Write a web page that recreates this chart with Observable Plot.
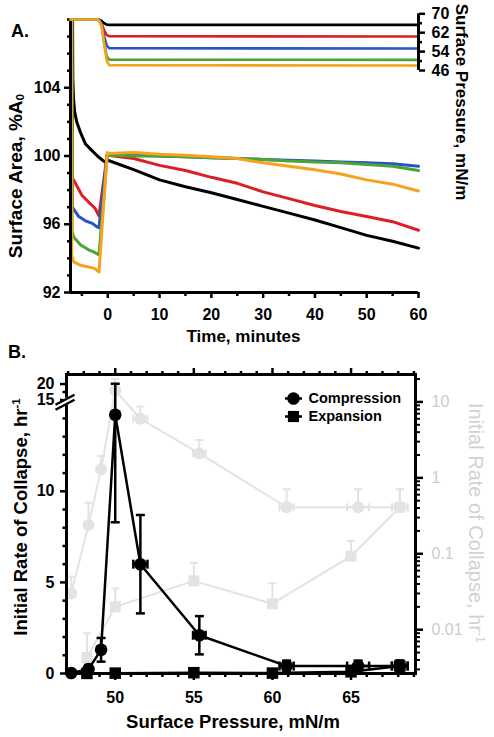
<!DOCTYPE html>
<html><head><meta charset="utf-8">
<script src="https://cdn.jsdelivr.net/npm/d3@7"></script>
<script src="https://cdn.jsdelivr.net/npm/@observablehq/plot@0.6"></script>
<style>
body{margin:0;background:#fff;}
#wrap{position:relative;width:494px;height:737px;overflow:hidden;font-family:"Liberation Sans",Arial,Helvetica,sans-serif;background:#fff;}
.lbl{position:absolute;white-space:nowrap;line-height:1;}
.lbl sup{font-size:0.62em;vertical-align:0.55em;line-height:0;}
.lbl sub{font-size:0.62em;vertical-align:-0.25em;line-height:0;}
</style></head><body><div id="wrap"></div>
<script>
// ---------------- Panel A data ----------------
const postTime = [0, 5, 10, 15, 20, 25, 30, 35, 40, 45, 50, 55, 60];

const blackPreTime = [-6.8, -6.75, -6.6, -6.4, -6.0, -5.3, -4.3, -3.0, -2.0, -1.0, -0.3];
const blackPreArea = [108, 104.5, 103.3, 102.6, 102.0, 101.4, 100.7, 100.3, 100.0, 99.75, 99.6];
const blackPostArea = [99.75, 99.2, 98.6, 98.2, 97.85, 97.45, 97.05, 96.65, 96.25, 95.8, 95.35, 95.0, 94.6];

const redPreTime = [-6.95, -6.9, -6.6, -5.0, -3.7, -2.5, -1.7, -0.1];
const redPreArea = [108, 98.7, 98.6, 97.7, 97.3, 96.95, 96.5, 100.1];
const redPostArea = [100.05, 99.85, 99.45, 99.15, 98.75, 98.4, 97.9, 97.5, 97.1, 96.75, 96.45, 96.15, 95.65];

const bluePreTime = [-6.9, -6.85, -5.6, -4.3, -3.0, -2.1, -1.7, -0.1];
const bluePreArea = [108, 97.0, 96.45, 96.2, 96.05, 95.85, 95.8, 100.1];
const bluePostArea = [100.1, 100.05, 100.0, 99.95, 99.9, 99.85, 99.8, 99.75, 99.7, 99.65, 99.6, 99.55, 99.4];

const greenPreTime = [-6.95, -6.9, -6.6, -5.3, -3.7, -2.5, -1.7, -0.1];
const greenPreArea = [108, 95.6, 95.25, 94.8, 94.5, 94.35, 94.2, 100.1];
const greenPostArea = [100.05, 100.0, 100.0, 99.95, 99.9, 99.85, 99.8, 99.7, 99.65, 99.6, 99.5, 99.4, 99.15];

const orangePreTime = [-7.0, -6.95, -6.6, -5.3, -3.7, -2.5, -1.7, -0.1];
const orangePreArea = [108, 94.2, 93.8, 93.6, 93.5, 93.4, 93.2, 100.2];
const orangePostArea = [100.15, 100.2, 100.1, 100.05, 99.95, 99.85, 99.6, 99.4, 99.2, 98.95, 98.6, 98.35, 97.95];

const pressTime = [-7.2, -1.8, -1.2, -0.7, -0.2, 0.3, 60];
const blackPress = [67.6, 67.6, 67.0, 66.0, 65.4, 65.3, 65.3];
const redPress = [67.6, 67.6, 66.0, 63.0, 61.0, 60.5, 60.4];
const bluePress = [67.6, 67.6, 65.5, 60.5, 56.5, 55.4, 55.3];
const greenPress = [67.6, 67.6, 65.0, 58.0, 52.0, 50.6, 50.5];
const orangePress = [67.6, 67.6, 65.0, 57.0, 50.0, 48.2, 48.1];

const colors = {black: "#000000", red: "#dc1f26", blue: "#2a52c9", green: "#4aa436", orange: "#f5a31c"};

const xTicksA = [0, 10, 20, 30, 40, 50, 60];
const xMinorA = [-5, 5, 15, 25, 35, 45, 55];
const yTicksA = [92, 96, 100, 104];
const yMinorA = [93, 94, 95, 97, 98, 99, 101, 102, 103, 105, 106, 107, 108];
const pressTicks = [46, 54, 62, 70];
const pressMinor = [50, 58, 66];

// ---------------- Panel B data ----------------
const compPressure = [47.2, 48.3, 49.1, 50.0, 51.6, 55.35, 60.9, 65.45, 68.1];
const compRate =     [0.03, 0.24, 1.3, 14.2, 6.0, 2.1, 0.41, 0.41, 0.41];
const compErrY =     [0.02, 0.23, 0.65, 5.9, 2.7, 1.05, 0.3, 0.3, 0.3];
const compErrX =     [0, 0, 0, 0, 0.45, 0.4, 0.45, 0.7, 0.5];

const expPressure = [48.2, 50.0, 55.0, 60.0, 65.0, 68.1];
const expRate =     [0.0043, 0.020, 0.044, 0.022, 0.093, 0.41];
const expErrY =     [0.0047, 0.015, 0.032, 0.019, 0.055, 0.3];
const expErrX =     [0, 0, 0, 0, 0, 0.5];

const yTicksB = [0, 5, 10, 15, 20];
const yMinorB = [1, 2, 3, 4, 6, 7, 8, 9, 11, 12, 13, 14, 17.5];
const xTicksB = [50, 55, 60, 65];
const xMinorB = [47, 48, 49, 51, 52, 53, 54, 56, 57, 58, 59, 61, 62, 63, 64, 66, 67, 68, 69];
const logTicks = [0.01, 0.1, 1, 10];
const logTickLabels = ["0.01", "0.1", "1", "10"];
const logMinor = [0.003,0.004,0.005,0.006,0.007,0.008,0.009,0.02,0.03,0.04,0.05,0.06,0.07,0.08,0.09,0.2,0.3,0.4,0.5,0.6,0.7,0.8,0.9,2,3,4,5,6,7,8,9,20];
const legendNames = ["Compression", "Expansion"];
const legendSymbols = ["circle", "square"];
const breakAt = [14.8];

// ---------------- helpers ----------------
const W = 494, H = 737;
const FONT = "'Liberation Sans', Arial, Helvetica, sans-serif";
const wrap = document.getElementById("wrap");
const baseStyle = {position: "absolute", left: "0px", top: "0px", background: "transparent", overflow: "visible", fontFamily: FONT, fontSize: "16px", fontWeight: "bold", color: "black", maxWidth: "none"};
function add(node, left = 0, top = 0) {
  node.style.position = "absolute"; node.style.left = left + "px"; node.style.top = top + "px";
  node.style.background = "transparent"; node.style.overflow = "visible";
  wrap.appendChild(node);
}
function label(html, cx, cy, {size = 16, rot = 0, weight = "bold", color = "#000"} = {}) {
  const d = document.createElement("div");
  d.className = "lbl"; d.innerHTML = html;
  d.style.left = cx + "px"; d.style.top = cy + "px";
  d.style.fontSize = size + "px"; d.style.fontWeight = weight; d.style.color = color;
  d.style.transform = `translate(-50%,-50%) rotate(${rot}deg)`;
  wrap.appendChild(d);
}
const capH = {draw(ctx, size) { const r = Math.sqrt(size / Math.PI); ctx.moveTo(-r, 0); ctx.lineTo(r, 0); }};
const capV = {draw(ctx, size) { const r = Math.sqrt(size / Math.PI); ctx.moveTo(0, -r); ctx.lineTo(0, r); }};
const breakSlashes = {draw(ctx) { ctx.moveTo(-11, 6); ctx.lineTo(8, -4); ctx.moveTo(-11, 1); ctx.lineTo(8, -9); }};
const breakGap = {draw(ctx) { ctx.rect(-3, -6, 6, 7); }};
const blank = () => "";

// ---------------- Panel A ----------------
const areaSeries = [
  ["black", blackPreTime, blackPreArea, blackPostArea],
  ["red", redPreTime, redPreArea, redPostArea],
  ["blue", bluePreTime, bluePreArea, bluePostArea],
  ["green", greenPreTime, greenPreArea, greenPostArea],
  ["orange", orangePreTime, orangePreArea, orangePostArea]
].map(([name, pt, pa, post]) => ({
  name,
  rows: [...pt.map((t, i) => ({t, v: pa[i]})), ...postTime.map((t, i) => ({t, v: post[i]}))]
}));
const pressSeries = [["black", blackPress], ["red", redPress], ["blue", bluePress], ["green", greenPress], ["orange", orangePress]]
  .map(([name, vals]) => ({name, rows: pressTime.map((t, i) => ({t, v: vals[i]}))}));

const axisFont = {fontSize: 16, fontWeight: "bold", fontFamily: FONT};

add(Plot.plot({
  width: W, height: H, marginLeft: 70, marginRight: 76, marginTop: 19, marginBottom: H - 292,
  style: baseStyle,
  x: {domain: [-7.2, 60]}, y: {domain: [92, 108]},
  marks: [
    ...areaSeries.map(s => Plot.line(s.rows, {x: "t", y: "v", stroke: colors[s.name], strokeWidth: 3})),
    Plot.ruleX([-7.2], {stroke: "black", strokeWidth: 3}),
    Plot.ruleY([92], {stroke: "black", strokeWidth: 3}),
    Plot.axisY(yTicksA, {tickSize: 6, tickPadding: 4, strokeWidth: 2.5, label: null, ...axisFont}),
    Plot.axisY(yMinorA, {tickSize: 3, tickFormat: blank, strokeWidth: 2.5, label: null}),
    Plot.axisX(xTicksA, {tickSize: 6, tickPadding: 10, strokeWidth: 2.5, label: null, ...axisFont}),
    Plot.axisX(xMinorA, {tickSize: 4, tickFormat: blank, strokeWidth: 2.5, label: null})
  ]
}));

add(Plot.plot({
  width: W, height: H, marginLeft: 70, marginRight: 76, marginTop: 13.3, marginBottom: H - 70,
  style: baseStyle,
  x: {domain: [-7.2, 60], axis: null}, y: {domain: [46, 70]},
  marks: [
    ...pressSeries.map(s => Plot.line(s.rows, {x: "t", y: "v", stroke: colors[s.name], strokeWidth: 2.6})),
    Plot.ruleX([60], {y1: d3.min(pressTicks), y2: d3.max(pressTicks), stroke: "black", strokeWidth: 3}),
    Plot.axisY(pressTicks, {anchor: "right", tickSize: 6, tickPadding: 7, strokeWidth: 2.5, label: null, ...axisFont}),
    Plot.axisY(pressMinor, {anchor: "right", tickSize: 3, tickFormat: blank, strokeWidth: 2.5, label: null})
  ]
}));

// ---------------- Panel B ----------------
const compRows = compPressure.map((p, i) => ({p, r: compRate[i], ey: compErrY[i], ex: compErrX[i]}));
const expRows = expPressure.map((p, i) => ({p, r: expRate[i], ey: expErrY[i], ex: expErrX[i]}));
const grey = "#e3e3e3";
const xBdomain = [46.9, 69.1];
const marginsB = {marginLeft: 66, marginRight: 79, marginTop: 374, marginBottom: H - 673};

// grey log-scale copy (behind)
add(Plot.plot({
  width: W, height: H, ...marginsB, style: baseStyle,
  x: {domain: xBdomain, axis: null}, y: {type: "log", domain: [0.00265, 22.97]},
  marks: [
    Plot.ruleX([...compRows, ...expRows], {x: "p", y1: "r", y2: d => d.r + d.ey, stroke: grey, strokeWidth: 2}),
    Plot.dot([...compRows, ...expRows], {x: "p", y: d => d.r + d.ey, symbol: capH, r: 4, stroke: grey, strokeWidth: 2, fill: "none"}),
    Plot.ruleY([...compRows, ...expRows].filter(d => d.ex > 0), {y: "r", x1: d => d.p - d.ex, x2: d => d.p + d.ex, stroke: grey, strokeWidth: 2}),
    Plot.dot([...compRows, ...expRows].filter(d => d.ex > 0), {x: d => d.p - d.ex, y: "r", symbol: capV, r: 4, stroke: grey, strokeWidth: 2, fill: "none"}),
    Plot.dot([...compRows, ...expRows].filter(d => d.ex > 0), {x: d => d.p + d.ex, y: "r", symbol: capV, r: 4, stroke: grey, strokeWidth: 2, fill: "none"}),
    Plot.line(compRows, {x: "p", y: "r", stroke: grey, strokeWidth: 2}),
    Plot.line(expRows, {x: "p", y: "r", stroke: grey, strokeWidth: 2}),
    Plot.dot(compRows, {x: "p", y: "r", symbol: "circle", r: 6, fill: grey}),
    Plot.dot(expRows, {x: "p", y: "r", symbol: "square", r: 6.2, fill: grey}),
    Plot.axisY(logTicks, {anchor: "right", tickSize: 7, tickFormat: blank, strokeWidth: 2.5, stroke: "black", label: null}),
    Plot.axisY(logMinor, {anchor: "right", tickSize: 4, tickFormat: blank, strokeWidth: 2, stroke: "black", label: null}),
    Plot.text(logTicks, {y: d => d, text: (d, i) => logTickLabels[i], frameAnchor: "right", dx: 16, textAnchor: "start", fill: "#cdcdcd", fontSize: 16, fontWeight: "normal", fontFamily: FONT})
  ]
}));

// black linear copy (front), broken axis
const errRowsC = compRows.filter(d => d.ey > 0.1);
const errRowsE = expRows.filter(d => d.ey > 0.1);
add(Plot.plot({
  width: W, height: H, ...marginsB, style: baseStyle,
  x: {domain: xBdomain}, y: {type: "linear", domain: [0, 14.6, 15, 22.9], range: [673, 407, 399.5, 374.3]},
  marks: [
    Plot.ruleX([...errRowsC, ...errRowsE], {x: "p", y1: d => d.r - d.ey, y2: d => d.r + d.ey, stroke: "black", strokeWidth: 2.5}),
    Plot.dot([...errRowsC, ...errRowsE], {x: "p", y: d => d.r + d.ey, symbol: capH, r: 4.5, stroke: "black", strokeWidth: 2.5, fill: "none"}),
    Plot.dot([...errRowsC, ...errRowsE], {x: "p", y: d => d.r - d.ey, symbol: capH, r: 4.5, stroke: "black", strokeWidth: 2.5, fill: "none"}),
    Plot.ruleY([...compRows, ...expRows].filter(d => d.ex > 0), {y: "r", x1: d => d.p - d.ex, x2: d => d.p + d.ex, stroke: "black", strokeWidth: 2.5}),
    Plot.dot([...compRows, ...expRows].filter(d => d.ex > 0), {x: d => d.p - d.ex, y: "r", symbol: capV, r: 4.5, stroke: "black", strokeWidth: 2.5, fill: "none"}),
    Plot.dot([...compRows, ...expRows].filter(d => d.ex > 0), {x: d => d.p + d.ex, y: "r", symbol: capV, r: 4.5, stroke: "black", strokeWidth: 2.5, fill: "none"}),
    Plot.line(compRows, {x: "p", y: "r", stroke: "black", strokeWidth: 2.5}),
    Plot.line(expRows, {x: "p", y: "r", stroke: "black", strokeWidth: 2.5}),
    Plot.frame({stroke: "black", strokeWidth: 3}),
    Plot.dot(compRows, {x: "p", y: "r", symbol: "circle", r: 6.3, fill: "black"}),
    Plot.dot(expRows, {x: "p", y: "r", symbol: "square", r: 6.5, fill: "black"}),
    Plot.axisY(yTicksB, {tickSize: 6, tickPadding: 6, strokeWidth: 2.5, label: null, ...axisFont}),
    Plot.axisY(yMinorB, {tickSize: 3.5, tickFormat: blank, strokeWidth: 2.5, label: null}),
    Plot.axisX(xTicksB, {tickSize: 7, tickPadding: 11, strokeWidth: 2.5, label: null, ...axisFont}),
    Plot.axisX(xMinorB, {tickSize: 4, tickFormat: blank, strokeWidth: 2.5, label: null}),
    Plot.axisX(xTicksB, {anchor: "top", tickSize: 7, tickFormat: blank, strokeWidth: 2.5, label: null}),
    Plot.axisX(xMinorB, {anchor: "top", tickSize: 4, tickFormat: blank, strokeWidth: 2.5, label: null}),
    Plot.dot(breakAt, {x: xBdomain[0], y: d => d, symbol: breakGap, r: 5, fill: "white", stroke: "none"}),
    Plot.dot(breakAt, {x: xBdomain[0], y: d => d, symbol: breakSlashes, r: 5, fill: "none", stroke: "black", strokeWidth: 2.5})
  ]
}));

// legend
add(Plot.plot({
  width: 140, height: 36, margin: 0, style: baseStyle,
  x: {domain: [0, 1], axis: null},
  y: {type: "point", domain: legendNames, range: [9, 27], padding: 0, axis: null},
  symbol: {domain: legendNames, range: legendSymbols},
  marks: [
    Plot.dot(legendNames, {y: d => d, frameAnchor: "left", dx: 11, symbol: capH, r: 8.5, stroke: "black", strokeWidth: 2.5, fill: "none"}),
    Plot.dot(legendNames, {y: d => d, frameAnchor: "left", dx: 11, symbol: d => d, r: 6.3, fill: "black"}),
    Plot.text(legendNames, {y: d => d, frameAnchor: "left", dx: 26, text: d => d, textAnchor: "start", fontSize: 14.5, fontWeight: "bold", fontFamily: FONT, fill: "black"})
  ]
}), 282, 389);

// ---------------- text labels ----------------
label("A.", 20, 31, {size: 18});
label("B.", 17, 352, {size: 18});
label("Surface Area, %A<sub>0</sub>", 15, 176, {size: 19, rot: -90});
label("Time, minutes", 243.5, 336, {size: 17});
label("Surface Pressure, mN/m", 461, 102, {size: 17, rot: 90});
label("Initial Rate of Collapse, hr<sup>-1</sup>", 21, 517, {size: 18.5, rot: -90});
label("Surface Pressure, mN/m", 233, 722, {size: 18.5});
label("Initial Rate of Collapse, hr<sup>-1</sup>", 476, 523, {size: 20, rot: 90, weight: "normal", color: "#d2d2d2"});
</script></body></html>
